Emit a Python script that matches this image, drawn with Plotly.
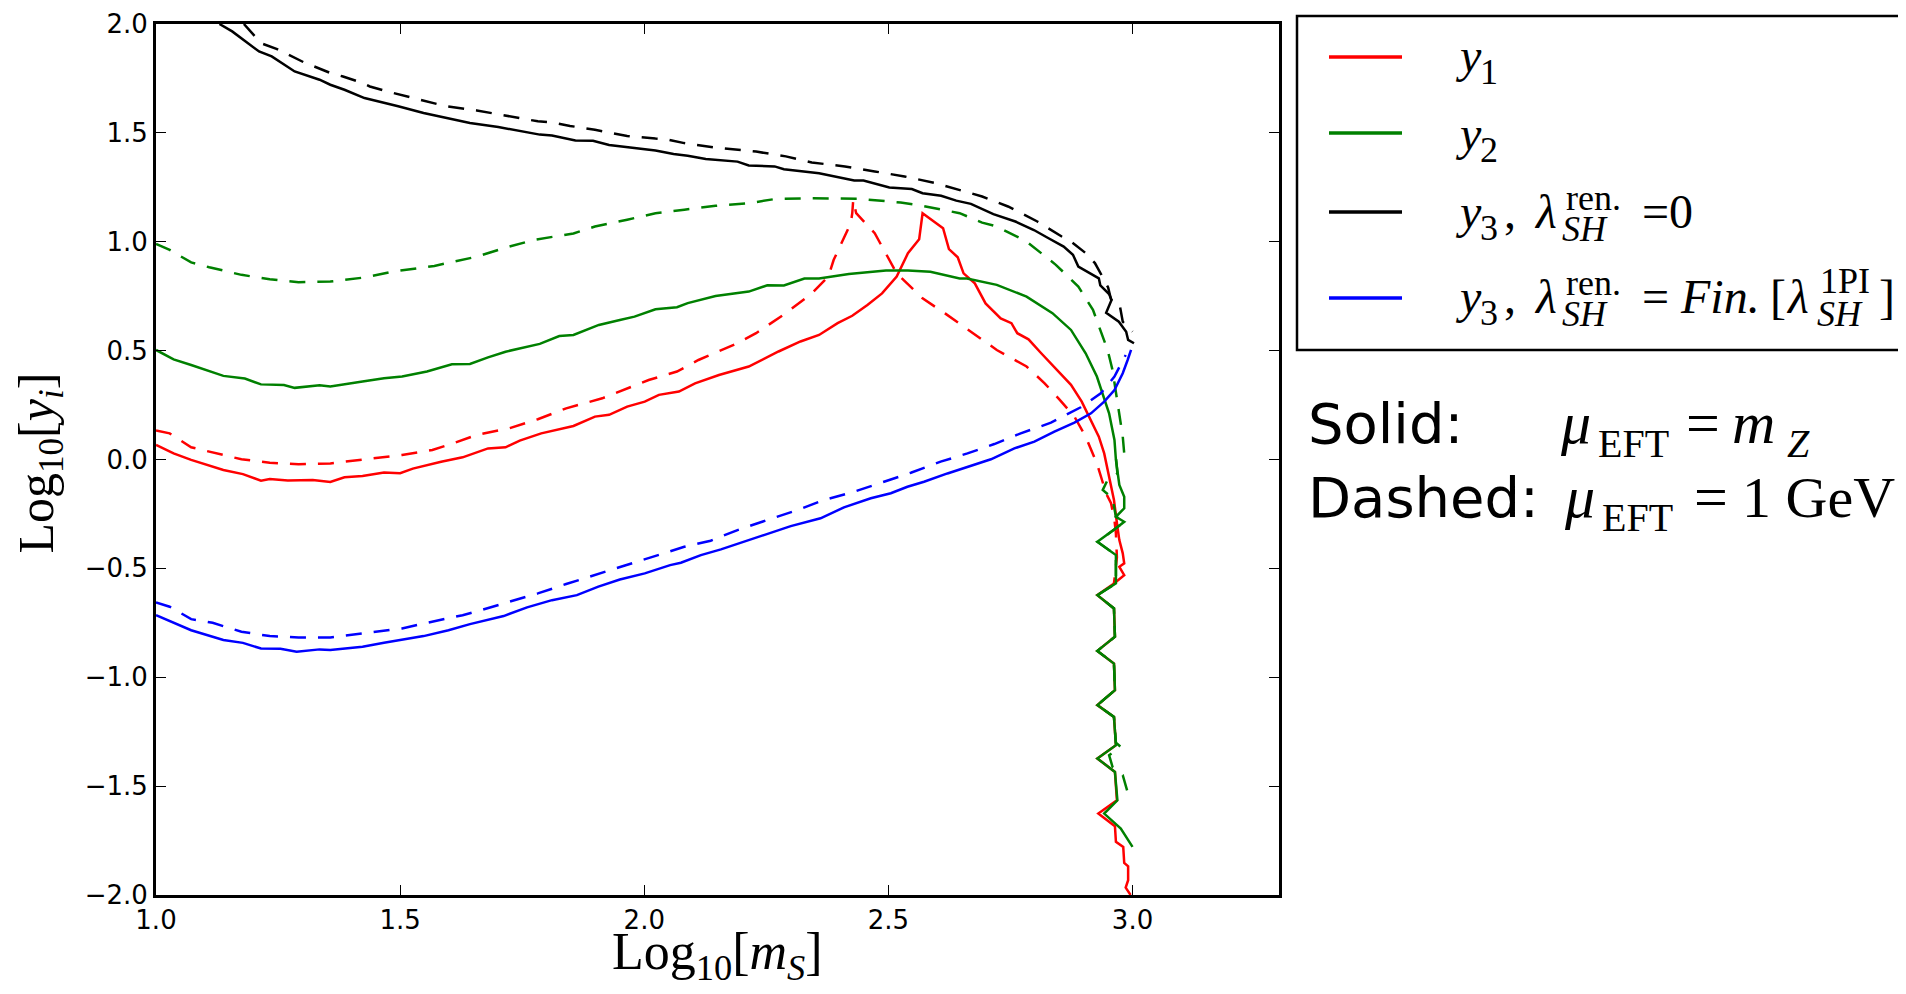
import plotly.graph_objects as go

# ---------------- data ----------------
red_solid_x = [1.0,1.036,1.072,1.138,1.178,1.215,1.233,1.270,1.321,1.357,
               1.386,1.423,1.467,1.500,1.526,1.584,1.628,1.680,1.716,1.745,
               1.789,1.855,1.899,1.928,1.965,2.001,2.030,2.071,2.104,2.153,
               2.214,2.275,2.320,2.358,2.396,2.426,2.457,2.487,2.517,2.540,
               2.563,2.570,2.612,2.624,2.642,2.654,2.677,2.699,2.730,2.752,
               2.764,2.787,2.813,2.843,2.874,2.896,2.912,2.931,2.942,2.952,
               2.962,2.969,2.973,2.980,2.983,2.973,2.983,2.962,2.928,2.962,
               2.964,2.928,2.962,2.964,2.928,2.962,2.966,2.928,2.964,2.968,
               2.930,2.964,2.966,2.981,2.983,2.991,2.991,2.986,2.996]
red_solid_y = [0.067,0.028,-0.002,-0.048,-0.067,-0.097,-0.090,-0.097,-0.094,-0.103,
               -0.082,-0.076,-0.060,-0.063,-0.042,-0.010,0.010,0.051,0.056,0.087,
               0.120,0.154,0.197,0.205,0.243,0.266,0.297,0.312,0.350,0.388,
               0.427,0.496,0.542,0.572,0.626,0.660,0.710,0.763,0.840,0.947,
               1.011,1.131,1.062,0.966,0.929,0.855,0.809,0.717,0.648,0.626,
               0.580,0.552,0.488,0.419,0.343,0.266,0.189,0.105,0.028,-0.079,
               -0.186,-0.309,-0.370,-0.431,-0.477,-0.493,-0.531,-0.569,-0.623,-0.684,
               -0.814,-0.879,-0.937,-1.059,-1.128,-1.182,-1.312,-1.373,-1.435,-1.565,
               -1.626,-1.684,-1.756,-1.779,-1.853,-1.868,-1.932,-1.966,-2.0]

red_dash_x = [1.0,1.028,1.072,1.109,1.175,1.233,1.292,1.357,1.423,1.504,
              1.566,1.599,1.657,1.723,1.782,1.840,1.914,1.950,2.009,2.067,
              2.111,2.191,2.229,2.290,2.343,2.377,2.388,2.404,2.423,2.426,
              2.428,2.434,2.457,2.472,2.487,2.517,2.570,2.616,2.669,2.722,
              2.783,2.820,2.851,2.881,2.904,2.927,2.946,2.956,2.963,2.966,
              2.968,2.962]
red_dash_y = [0.133,0.120,0.056,0.036,0.001,-0.015,-0.022,-0.018,0.001,0.021,
              0.044,0.067,0.113,0.143,0.185,0.235,0.281,0.312,0.365,0.404,
              0.457,0.534,0.580,0.672,0.763,0.840,0.917,0.994,1.085,1.131,
              1.193,1.131,1.077,1.039,0.978,0.855,0.740,0.671,0.587,0.503,
              0.427,0.350,0.274,0.197,0.105,-0.018,-0.156,-0.201,-0.278,-0.339,
              -0.450,-0.569]

green_solid_x = [1.0,1.036,1.072,1.138,1.182,1.215,1.262,1.284,1.335,1.357,
                 1.423,1.467,1.504,1.555,1.606,1.643,1.680,1.716,1.786,1.826,
                 1.855,1.907,1.950,1.980,2.023,2.067,2.089,2.146,2.214,2.252,
                 2.286,2.328,2.358,2.419,2.495,2.540,2.586,2.646,2.661,2.722,
                 2.783,2.836,2.874,2.904,2.927,2.942,2.952,2.963,2.966,2.973,
                 2.983,2.983,2.966,2.983,2.966,2.928,2.966,2.966,2.928,2.962,
                 2.964,2.928,2.962,2.964,2.928,2.962,2.966,2.928,2.964,2.969,
                 2.942,2.976,3.000]
green_solid_y = [0.503,0.460,0.434,0.384,0.372,0.345,0.342,0.329,0.341,0.335,
                 0.358,0.373,0.381,0.404,0.437,0.439,0.469,0.495,0.531,0.567,
                 0.572,0.618,0.641,0.656,0.690,0.699,0.718,0.751,0.771,0.800,
                 0.799,0.831,0.831,0.852,0.868,0.868,0.862,0.831,0.831,0.802,
                 0.748,0.672,0.595,0.488,0.381,0.274,0.212,0.090,-0.002,-0.117,
                 -0.171,-0.224,-0.263,-0.286,-0.316,-0.378,-0.439,-0.569,-0.623,-0.684,
                 -0.814,-0.879,-0.937,-1.059,-1.128,-1.182,-1.312,-1.373,-1.435,-1.565,
                 -1.626,-1.695,-1.779]

green_dash_x = [1.0,1.028,1.072,1.109,1.175,1.233,1.292,1.357,1.431,1.482,
                1.570,1.621,1.658,1.716,1.775,1.855,1.899,1.965,2.023,2.082,
                2.146,2.214,2.267,2.343,2.442,2.525,2.570,2.646,2.692,2.722,
                2.783,2.843,2.889,2.919,2.949,2.959,2.966,2.980,2.983,2.966,
                2.969,2.949,2.939,2.959,2.966,2.983,2.966,2.928,2.966,2.966,
                2.928,2.962,2.964,2.928,2.962,2.964,2.928,2.962,2.966,2.976,
                2.952,2.959,2.980,2.989,3.000]
green_dash_y = [0.990,0.963,0.905,0.883,0.848,0.828,0.814,0.817,0.837,0.862,
                0.889,0.914,0.932,0.973,1.009,1.038,1.070,1.101,1.131,1.147,
                1.165,1.177,1.196,1.200,1.197,1.180,1.165,1.131,1.088,1.070,
                1.001,0.894,0.794,0.687,0.503,0.411,0.304,0.105,0.028,0.013,
                -0.064,-0.094,-0.140,-0.178,-0.263,-0.286,-0.316,-0.378,-0.439,-0.569,
                -0.623,-0.684,-0.814,-0.879,-0.937,-1.059,-1.128,-1.182,-1.300,-1.320,
                -1.358,-1.411,-1.450,-1.520,-1.542]

black_solid_x = [1.13,1.156,1.211,1.237,1.284,1.335,1.357,1.386,1.427,1.467,
                 1.496,1.548,1.599,1.643,1.701,1.786,1.811,1.859,1.895,1.928,
                 2.023,2.060,2.089,2.126,2.191,2.214,2.267,2.286,2.358,2.430,
                 2.449,2.502,2.548,2.570,2.608,2.639,2.669,2.715,2.760,2.798,
                 2.828,2.859,2.878,2.889,2.931,2.934,2.952,2.957,2.946,2.972,
                 2.987,2.991,3.003]
black_solid_y = [2.0,1.966,1.874,1.851,1.782,1.744,1.721,1.698,1.660,1.640,
                 1.622,1.591,1.568,1.545,1.527,1.492,1.488,1.465,1.464,1.444,
                 1.419,1.403,1.395,1.380,1.368,1.350,1.346,1.333,1.315,1.281,
                 1.281,1.249,1.242,1.223,1.211,1.189,1.174,1.127,1.093,1.054,
                 1.016,0.978,0.940,0.886,0.832,0.800,0.760,0.733,0.674,0.633,
                 0.587,0.549,0.534]

black_dash_x = [1.180,1.215,1.248,1.302,1.357,1.383,1.423,1.438,1.474,1.533,
                1.591,1.657,1.716,1.782,1.811,1.848,1.899,1.965,2.023,2.045,
                2.082,2.142,2.229,2.290,2.343,2.411,2.472,2.533,2.597,2.646,
                2.692,2.745,2.805,2.855,2.874,2.904,2.923,2.938,2.950,2.956,
                2.973,2.980,3.000]
black_dash_y = [2.0,1.912,1.885,1.825,1.775,1.759,1.729,1.713,1.690,1.655,
                1.624,1.603,1.580,1.553,1.548,1.532,1.514,1.486,1.474,1.471,
                1.453,1.434,1.414,1.392,1.364,1.346,1.323,1.300,1.269,1.236,
                1.208,1.162,1.093,1.024,1.001,0.948,0.902,0.841,0.790,0.735,
                0.718,0.633,0.587]

blue_solid_x = [1.0,1.036,1.072,1.138,1.178,1.215,1.255,1.288,1.335,1.357,
                1.423,1.467,1.504,1.548,1.599,1.643,1.712,1.760,1.811,1.862,
                1.906,1.950,2.001,2.053,2.075,2.116,2.157,2.204,2.239,2.300,
                2.361,2.409,2.464,2.505,2.539,2.573,2.621,2.662,2.710,2.758,
                2.799,2.840,2.881,2.915,2.942,2.963,2.980,2.990,2.997]
blue_solid_y = [-0.715,-0.750,-0.784,-0.829,-0.842,-0.868,-0.869,-0.883,-0.872,-0.875,
                -0.860,-0.842,-0.829,-0.811,-0.784,-0.756,-0.719,-0.679,-0.646,-0.623,
                -0.584,-0.551,-0.523,-0.485,-0.474,-0.439,-0.413,-0.378,-0.352,-0.306,
                -0.270,-0.220,-0.178,-0.155,-0.125,-0.102,-0.064,-0.033,0.001,0.051,
                0.082,0.128,0.169,0.212,0.266,0.319,0.396,0.457,0.503]

blue_dash_x = [1.0,1.028,1.072,1.116,1.175,1.233,1.292,1.357,1.423,1.504,
               1.555,1.628,1.665,1.723,1.782,1.840,1.899,1.965,2.023,2.082,
               2.136,2.191,2.252,2.314,2.368,2.430,2.491,2.546,2.607,2.662,
               2.717,2.771,2.833,2.894,2.935,2.963,2.986]
blue_dash_y = [-0.656,-0.676,-0.733,-0.750,-0.791,-0.811,-0.817,-0.817,-0.799,-0.776,
               -0.750,-0.715,-0.692,-0.653,-0.615,-0.572,-0.531,-0.485,-0.443,-0.401,
               -0.373,-0.324,-0.278,-0.232,-0.186,-0.148,-0.102,-0.061,-0.010,0.028,
               0.071,0.120,0.169,0.240,0.304,0.381,0.480]

x_ticks = [1.0, 1.5, 2.0, 2.5, 3.0]
y_ticks = [-2.0, -1.5, -1.0, -0.5, 0.0, 0.5, 1.0, 1.5, 2.0]

RED, GREEN, BLACK, BLUE = "#ff0000", "#008000", "#000000", "#0000ff"
DASH = "16px,12px"
LW = 2.5

fig = go.Figure()
series = [
    ("y1 solid", red_solid_x, red_solid_y, RED, "solid"),
    ("y1 dashed", red_dash_x, red_dash_y, RED, DASH),
    ("y2 solid", green_solid_x, green_solid_y, GREEN, "solid"),
    ("y2 dashed", green_dash_x, green_dash_y, GREEN, DASH),
    ("y3 lam=0 solid", black_solid_x, black_solid_y, BLACK, "solid"),
    ("y3 lam=0 dashed", black_dash_x, black_dash_y, BLACK, DASH),
    ("y3 lam=Fin solid", blue_solid_x, blue_solid_y, BLUE, "solid"),
    ("y3 lam=Fin dashed", blue_dash_x, blue_dash_y, BLUE, DASH),
]
for name, xs, ys, col, dash in series:
    fig.add_trace(go.Scatter(x=xs, y=ys, mode="lines", name=name, showlegend=False,
                             line=dict(color=col, width=LW, dash=dash)))

# ---------------- layout ----------------
OFF = 8                      # default page (body) margin of the browser
W, H = 1906 - 2 * OFF, 994 - 2 * OFF
# plot-area edges in page pixels: left 156, right 1279, top 24, bottom 895
ML = 156 - OFF
MT = 24 - OFF
MR = W - (1279 - OFF)
MB = H - (895 - OFF)
PW, PH = W - ML - MR, H - MT - MB

def P(px, py):
    """page pixel -> paper coordinate"""
    fx, fy = px - OFF, py - OFF
    return (fx - ML) / PW, (H - MB - fy) / PH

SERIF = "Liberation Serif, Times New Roman, serif"
SANS = "DejaVu Sans, sans-serif"

fig.update_layout(
    width=W, height=H,
    margin=dict(l=ML, r=MR, t=MT, b=MB, pad=0),
    paper_bgcolor="white", plot_bgcolor="white",
    showlegend=False,
    xaxis=dict(range=[1.0, 3.3], tickvals=x_ticks, ticktext=[f"{v:.1f}" for v in x_ticks],
               ticks="inside", ticklen=10, tickwidth=1.2, tickcolor="black",
               showline=True, linewidth=3, linecolor="black", mirror="ticks",
               showgrid=False, zeroline=False, automargin=False,
               tickfont=dict(family=SANS, size=26, color="black")),
    yaxis=dict(range=[-2.0, 2.0], tickvals=y_ticks,
               ticktext=[f"{v:.1f}".replace("-", "\u2212") for v in y_ticks],
               ticks="inside", ticklen=10, tickwidth=1.2, tickcolor="black",
               showline=True, linewidth=3, linecolor="black", mirror="ticks",
               showgrid=False, zeroline=False, automargin=False,
               tickfont=dict(family=SANS, size=26, color="black")),
)

annotations = []
def txt(text, px, base, size, family=SERIF, italic=False):
    xp, yp = P(px, base - 0.34 * size)
    t = f"<i>{text}</i>" if italic else text
    annotations.append(dict(text=t, x=xp, y=yp, xref="paper", yref="paper",
                            xanchor="left", yanchor="middle", showarrow=False,
                            font=dict(family=family, size=size, color="black")))

# axis titles (placed as paper annotations)
XT = 52
xp, yp = P(717, 970 - 0.34 * XT + 3.5)
annotations.append(dict(text="Log<sub>10</sub>[<i>m</i><sub><i>S</i></sub>]",
                        x=xp, y=yp, xref="paper", yref="paper", xanchor="center",
                        yanchor="middle", showarrow=False,
                        font=dict(family=SERIF, size=XT, color="black")))
YT = 50
xp, yp = P(53 - 0.34 * YT + 3.5, 463)
annotations.append(dict(text="Log<sub>10</sub>[<i>y</i><sub><i>i</i></sub>]",
                        x=xp, y=yp, xref="paper", yref="paper", xanchor="center",
                        yanchor="middle", showarrow=False, textangle=-90,
                        font=dict(family=SERIF, size=YT, color="black")))

# legend box + handles
shapes = []
x0, y0 = P(1297, 16)
x1, y1 = P(1915, 350)
shapes.append(dict(type="rect", xref="paper", yref="paper", x0=x0, y0=y1, x1=x1, y1=y0,
                   line=dict(color="black", width=2.5), fillcolor="rgba(0,0,0,0)"))
for col, py in [(RED, 57), (GREEN, 133), (BLACK, 212), (BLUE, 298)]:
    a, b = P(1329, py)
    c, _ = P(1402, py)
    shapes.append(dict(type="line", xref="paper", yref="paper", x0=a, y0=b, x1=c, y1=b,
                       line=dict(color=col, width=3.5)))

MS = 48   # main legend math size
SS = 36   # sub/superscript size
# row 1
txt("y", 1453, 72, MS, italic=True); txt("1", 1478, 84, SS)
# row 2
txt("y", 1453, 150, MS, italic=True); txt("2", 1478, 162, SS)
# row 3
txt("y", 1453, 228, MS, italic=True); txt("3", 1478, 240, SS)
txt(",", 1502, 228, MS); txt("λ", 1532, 228, MS, italic=True)
txt("ren.", 1564, 210, SS); txt("SH", 1560, 241, SS, italic=True)
txt("=0", 1640, 228, MS)
# row 4
txt("y", 1453, 313, MS, italic=True); txt("3", 1478, 325, SS)
txt(",", 1502, 313, MS); txt("λ", 1532, 313, MS, italic=True)
txt("ren.", 1564, 295, SS); txt("SH", 1560, 326, SS, italic=True)
txt("=", 1640, 313, MS); txt("Fin.", 1678, 313, MS, italic=True)
txt("[", 1768, 313, MS); txt("λ", 1784, 313, MS, italic=True)
txt("1PI", 1818, 293, SS); txt("SH", 1815, 326, SS, italic=True)
txt("]", 1877, 313, MS)

# Solid / Dashed note
txt("Solid:", 1306, 443, 56, family=SANS)
txt("Dashed:", 1306, 517, 56, family=SANS)
BS, BSS = 60, 40
txt("μ", 1558, 443, BS, italic=True); txt("EFT", 1596, 457, BSS)
txt("=", 1684, 443, BS); txt("m", 1730, 443, BS, italic=True)
txt("Z", 1785, 457, BSS, italic=True)
txt("μ", 1562, 517, BS, italic=True); txt("EFT", 1600, 531, BSS)
txt("=", 1692, 517, BS); txt("1 GeV", 1740, 517, 58)

fig.update_layout(annotations=annotations, shapes=shapes)
fig.write_html("out.html")
